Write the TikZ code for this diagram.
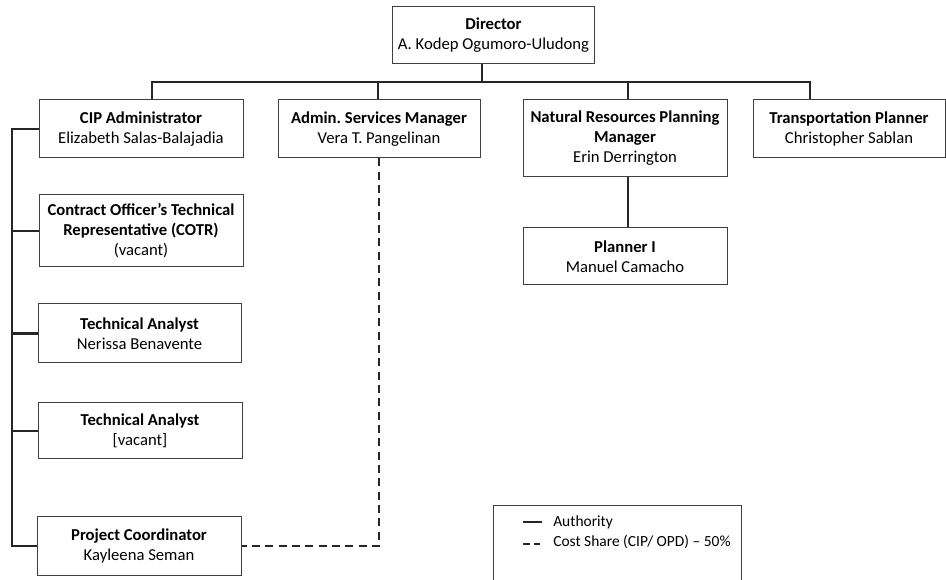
\documentclass[tikz,border=0pt]{standalone}
\usepackage{fontspec}
\setmainfont{Carlito}
\tikzset{
  box/.style={draw=black!75, line width=0.75pt, fill=white, align=center,
    minimum width=153pt, minimum height=43.5pt, inner sep=1pt,
    font=\fontsize{12.5}{15}\selectfont},
  authority/.style={draw=black!85, line width=1.7pt},
  costshare/.style={authority, dash pattern=on 6pt off 4pt},
  legendtext/.style={anchor=west, inner sep=0pt, font=\fontsize{11.6}{14.5}\selectfont},
}
\begin{document}
\frenchspacing
\begin{tikzpicture}[x=0.75pt,y=-0.75pt]
        \useasboundingbox (0,0) rectangle (946,580);

        \node[box, minimum width=152pt, minimum height=42.75pt] at (493.5,35.5) (dir) {\textbf{Director}\\A. Kodep Ogumoro-Uludong};
        \node[box] at (141,129) (cip) {\textbf{CIP Administrator}\\Elizabeth Salas-Balajadia};
        \node[box, minimum width=151.5pt] at (379,129) (adm) {\textbf{Admin. Services Manager}\\Vera T. Pangelinan};
        \node[box, minimum height=57.75pt] at (625,138.5) (nrpm) {\textbf{Natural Resources Planning}\\\textbf{Manager}\\Erin Derrington};
        \node[box, minimum width=144pt] at (849,129) (trans) {\textbf{Transportation Planner}\\Christopher Sablan};
        \node[box, minimum height=42.75pt] at (625,256.5) (plan) {\textbf{Planner I}\\Manuel Camacho};

        \node[box, minimum height=54pt] at (141,231) (cotr) {\textbf{Contract Officer’s Technical}\\\textbf{Representative (COTR)}\\(vacant)};
        \node[box, minimum width=152.25pt, minimum height=44.25pt] at (139.5,333.5) (ta1) {\textbf{Technical Analyst}\\Nerissa Benavente};
        \node[box, minimum height=42pt] at (140,431) (ta2) {\textbf{Technical Analyst}\\{[vacant]}};
        \node[box] at (139,546) (pc) {\textbf{Project Coordinator}\\Kayleena Seman};

        % top bus
        \coordinate (b0) at (152,82);
        \coordinate (b1) at (378,82);
        \coordinate (b2) at (482,82);
        \coordinate (b3) at (628,82);
        \coordinate (b4) at (810,82);
        \draw[authority] (dir.south -| b2) -- (b2);
        \draw[authority] (cip.north -| b0) -- (b0) -- (b4) -- (trans.north -| b4);
        \draw[authority] (b1) -- (adm.north -| b1);
        \draw[authority] (b3) -- (nrpm.north -| b3);
        \draw[authority] (nrpm.south -| b3) -- (plan.north -| b3);

        % left bus
        \coordinate (lb) at (12,0);
        \draw[authority] (cip.west) -- (cip.west -| lb) -- (pc.west -| lb) -- (pc.west);
        \foreach \n in {cotr,ta1,ta2}
            \draw[authority] (\n.west) -- (\n.west -| lb);

        \draw[costshare] (adm.south) |- (pc.east);

        % legend
        \draw[draw=black!75, line width=0.75pt] (493,581) -- (493,506) -- (741,506) -- (741,581);
        \node[legendtext] at (553,522) (lgauth) {Authority};
        \node[legendtext] at (553,542) (lgcost) {Cost Share (CIP/ OPD) – 50\%};
        \coordinate (lga0) at (523,522);
        \coordinate (lga1) at (542,522);
        \coordinate (lgc0) at (523,544);
        \coordinate (lgc1) at (542,544);
        \draw[authority, line width=1.3pt] (lga0) -- (lga1);
        \draw[costshare, line width=1.3pt, dash pattern=on 5pt off 3pt] (lgc0) -- (lgc1);

\end{tikzpicture}
\end{document}
